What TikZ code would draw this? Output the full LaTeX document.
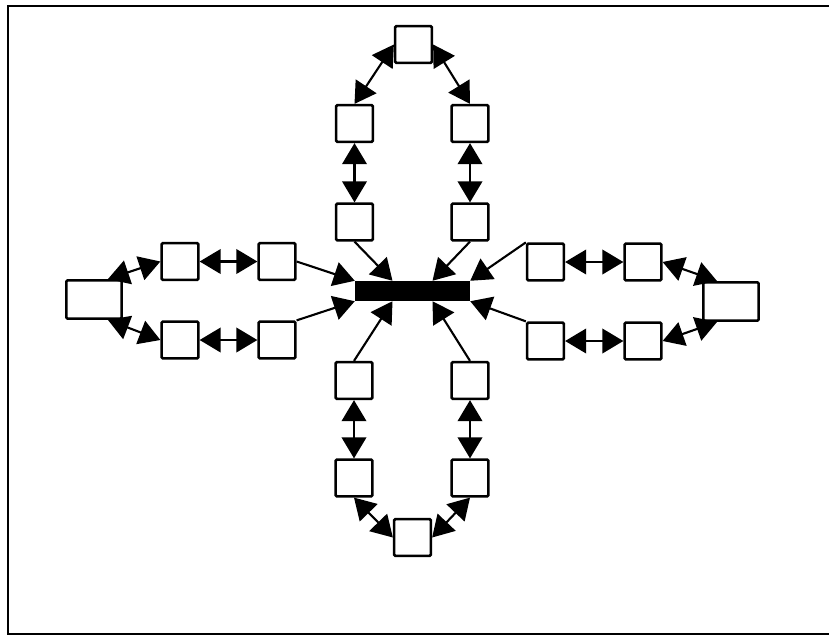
\documentclass[tikz,border=0pt]{standalone}
\usepackage{tikz}
\usetikzlibrary{arrows.meta}

\begin{document}
\begin{tikzpicture}[x=0.03cm,y=-0.03cm,
    box/.style={draw,line width=2.2pt,rounded corners=1pt,fill=white,inner sep=0pt,minimum width=1.1cm,minimum height=1.1cm},
    bigbox/.style={box,minimum width=1.66cm,minimum height=1.15cm},
    link/.style={line width=1.8pt,{Triangle[length=18pt,width=21pt]}-{Triangle[length=18pt,width=21pt]}},
    feed/.style={line width=1.8pt,-{Triangle[length=18pt,width=21pt]}}]
    \useasboundingbox (0,0) rectangle (829,637);
    \draw[line width=2.2pt] (829,6) -- (8,6) -- (8,634) -- (829,634);

    % hub
    \node[fill=black,inner sep=0pt,minimum width=3.45cm,minimum height=0.6cm] (hub) at (412.5,291) {};

    % top loop
    \node[box] (ta) at (413.5,44.5) {};
    \node[box] (tl1) at (354.5,123.5) {};
    \node[box] (tl2) at (354.5,222) {};
    \node[box] (tr1) at (470,123.5) {};
    \node[box] (tr2) at (470,222) {};

    % bottom loop
    \node[box] (bl1) at (354,380.5) {};
    \node[box] (bl2) at (354,478) {};
    \node[box] (br1) at (470,380.5) {};
    \node[box] (br2) at (470,478) {};
    \node[box] (ba) at (412.5,537.5) {};

    % left loop
    \node[bigbox] (la) at (94,299.5) {};
    \node[box] (lu1) at (180,261.5) {};
    \node[box] (lu2) at (277,261.5) {};
    \node[box] (ld1) at (180,340) {};
    \node[box] (ld2) at (277,340) {};

    % right loop
    \node[bigbox] (ra) at (731,301.5) {};
    \node[box] (ru1) at (545.5,262) {};
    \node[box] (ru2) at (643,262) {};
    \node[box] (rd1) at (545.5,341) {};
    \node[box] (rd2) at (643,341) {};

    \draw[link] (ta.west) -- (tl1.north);
    \draw[link] (ta.east) -- (tr1.north);
    \draw[link] (tl1.south) -- (tl2.north);
    \draw[link] (tr1.south) -- (tr2.north);

    \draw[link] (bl1.south) -- (bl2.north);
    \draw[link] (br1.south) -- (br2.north);
    \draw[link] (bl2.south) -- (ba.west);
    \draw[link] (br2.south) -- (ba.east);

    \draw[link] ([xshift=-0.45cm]la.north east) -- (lu1.west);
    \draw[link] ([xshift=-0.45cm]la.south east) -- (ld1.west);
    \draw[link] (lu1.east) -- (lu2.west);
    \draw[link] (ld1.east) -- (ld2.west);

    \draw[link] ([xshift=0.45cm]ra.north west) -- (ru2.east);
    \draw[link] ([xshift=0.45cm]ra.south west) -- (rd2.east);
    \draw[link] (ru1.east) -- (ru2.west);
    \draw[link] (rd1.east) -- (rd2.west);

    \draw[feed] (tl2.south) -- ([xshift=-0.6cm]hub.north);
    \draw[feed] (tr2.south) -- ([xshift=0.6cm]hub.north);
    \draw[feed] (bl1.north) -- ([xshift=-0.6cm]hub.south);
    \draw[feed] (br1.north) -- ([xshift=0.6cm]hub.south);
    \draw[feed] (lu2.east) -- (hub.north west);
    \draw[feed] (ld2.north east) -- (hub.south west);
    \draw[feed] (ru1.north west) -- (hub.north east);
    \draw[feed] (rd1.north west) -- (hub.south east);
  \end{tikzpicture}
\end{document}
